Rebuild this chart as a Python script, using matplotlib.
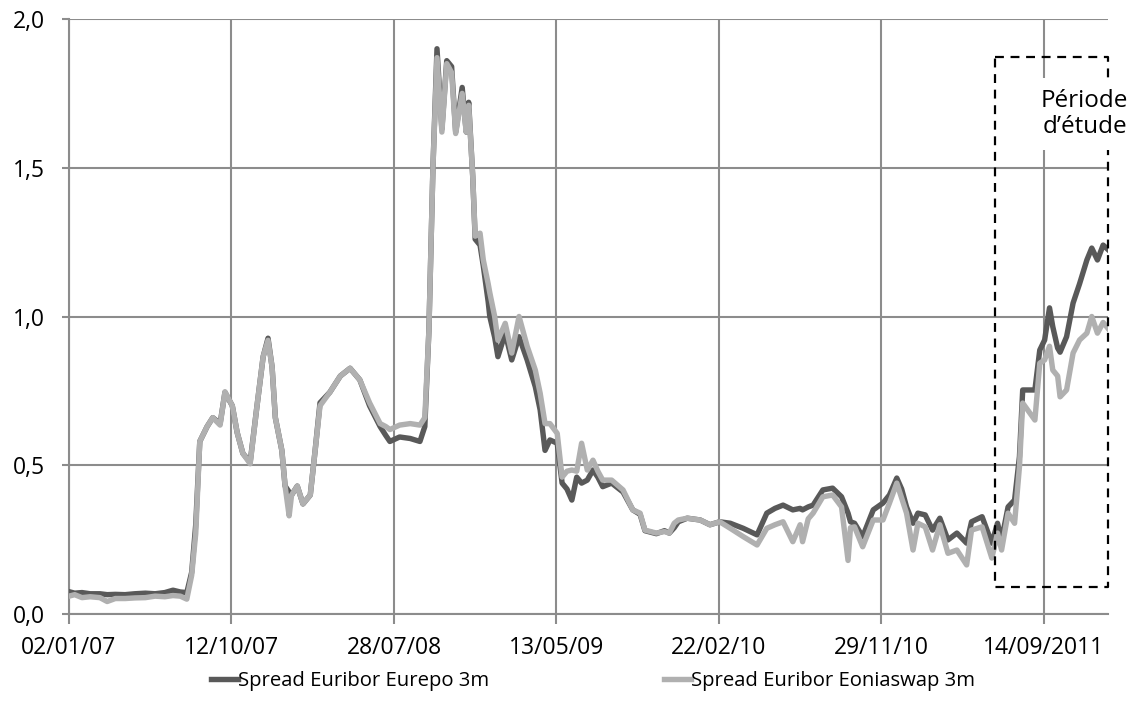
import matplotlib
matplotlib.use("Agg")
import matplotlib.pyplot as plt
import numpy as np

plt.rcParams['font.family'] = ['Open Sans', 'DejaVu Sans']

# trading-day index of each reading (first day = 02/01/07)
day_idx = [0, 7, 16, 26, 38, 47, 57, 69, 81, 94, 106, 118, 128, 137, 145, 151, 156, 161,
           170, 177, 186, 192, 201, 207, 214, 223, 231, 239, 245, 250, 254, 262, 266, 271,
           274, 281, 288, 297, 303, 309, 321, 334, 346, 358, 370, 383, 390, 395, 407, 420,
           432, 438, 443, 448, 453, 459, 465, 471, 476, 484, 489, 492, 497, 500, 506, 510,
           516, 518, 524, 528, 537, 545, 554, 564, 574, 580, 586, 592, 601, 607, 613, 619,
           625, 631, 638, 645, 651, 657, 668, 682, 694, 703, 709, 723, 733, 739, 745, 750,
           761, 777, 789, 801, 814, 830, 847, 859, 869, 879, 891, 900, 903, 910, 916, 928,
           940, 951, 959, 962, 967, 977, 990, 1002, 1010, 1019, 1025, 1031, 1039, 1045,
           1054, 1063, 1072, 1082, 1093, 1105, 1111, 1124, 1136, 1143, 1148, 1156, 1164,
           1170, 1174, 1183, 1189, 1195, 1201, 1207, 1211, 1217, 1220, 1228, 1236, 1244,
           1253, 1259, 1266, 1273, 1279]

eurepo = [0.075, 0.070, 0.072, 0.068, 0.068, 0.065, 0.066, 0.065, 0.068, 0.070, 0.068, 0.072,
          0.080, 0.074, 0.072, 0.14, 0.30, 0.58, 0.63, 0.66, 0.64, 0.745, 0.70, 0.61, 0.54,
          0.51, 0.69, 0.865, 0.927, 0.83, 0.66, 0.55, 0.43, 0.41, 0.40, 0.43, 0.37, 0.40,
          0.55, 0.71, 0.745, 0.80, 0.826, 0.787, 0.70, 0.63, 0.60, 0.58, 0.595, 0.59, 0.58,
          0.63, 0.95, 1.50, 1.90, 1.63, 1.86, 1.84, 1.62, 1.77, 1.62, 1.72, 1.47, 1.26, 1.24,
          1.17, 1.05, 1.00, 0.93, 0.865, 0.944, 0.854, 0.932, 0.854, 0.764, 0.686, 0.55,
          0.585, 0.574, 0.44, 0.42, 0.383, 0.46, 0.44, 0.45, 0.484, 0.46, 0.428, 0.44, 0.41,
          0.35, 0.335, 0.28, 0.27, 0.28, 0.272, 0.29, 0.31, 0.322, 0.316, 0.30, 0.31, 0.305,
          0.288, 0.266, 0.339, 0.355, 0.366, 0.35, 0.355, 0.35, 0.36, 0.366, 0.417, 0.423,
          0.394, 0.339, 0.31, 0.305, 0.26, 0.35, 0.373, 0.40, 0.457, 0.42, 0.36, 0.305, 0.339,
          0.333, 0.282, 0.322, 0.249, 0.272, 0.238, 0.31, 0.327, 0.238, 0.305, 0.249, 0.36,
          0.383, 0.529, 0.753, 0.753, 0.753, 0.887, 0.921, 1.029, 0.966, 0.894, 0.88, 0.932,
          1.045, 1.11, 1.19, 1.23, 1.19, 1.24, 1.225]

eoniaswap = [0.060, 0.065, 0.055, 0.058, 0.055, 0.042, 0.052, 0.052, 0.054, 0.055, 0.060,
             0.058, 0.062, 0.060, 0.050, 0.13, 0.27, 0.58, 0.63, 0.66, 0.635, 0.747, 0.70,
             0.61, 0.54, 0.505, 0.69, 0.865, 0.92, 0.83, 0.66, 0.55, 0.43, 0.33, 0.40, 0.43,
             0.37, 0.40, 0.55, 0.70, 0.745, 0.80, 0.826, 0.787, 0.71, 0.64, 0.63, 0.62, 0.635,
             0.64, 0.635, 0.66, 0.95, 1.50, 1.87, 1.62, 1.85, 1.82, 1.615, 1.75, 1.62, 1.71,
             1.47, 1.27, 1.28, 1.19, 1.11, 1.08, 1.00, 0.92, 0.977, 0.877, 1.00, 0.90, 0.82,
             0.742, 0.64, 0.64, 0.607, 0.46, 0.48, 0.484, 0.48, 0.574, 0.484, 0.517, 0.48,
             0.45, 0.45, 0.417, 0.35, 0.339, 0.282, 0.272, 0.277, 0.272, 0.305, 0.316, 0.322,
             0.316, 0.30, 0.31, 0.288, 0.26, 0.232, 0.288, 0.30, 0.31, 0.243, 0.30, 0.243,
             0.32, 0.339, 0.394, 0.40, 0.36, 0.18, 0.29, 0.293, 0.226, 0.316, 0.316, 0.373,
             0.44, 0.39, 0.339, 0.215, 0.305, 0.293, 0.215, 0.30, 0.204, 0.215, 0.165, 0.282,
             0.293, 0.188, 0.272, 0.215, 0.339, 0.305, 0.495, 0.709, 0.675, 0.652, 0.843,
             0.854, 0.90, 0.82, 0.80, 0.73, 0.753, 0.877, 0.921, 0.944, 1.00, 0.944, 0.98, 0.96]

tick_idx = [0, 200, 400, 600, 800, 1000, 1200]
tick_labels = ["02/01/07", "12/10/07", "28/07/08", "13/05/09", "22/02/10", "29/11/10", "14/09/2011"]
y_ticks = [0.0, 0.5, 1.0, 1.5, 2.0]
y_labels = ["0,0", "0,5", "1,0", "1,5", "2,0"]
series_names = ["Spread Euribor Eurepo 3m", "Spread Euribor Eoniaswap 3m"]
study_box = dict(x0=1140, x1=1279, y0=0.091, y1=1.872)
study_label = "Période\nd\u2019étude"

fig = plt.figure(figsize=(11.38, 7.19), dpi=100)
ax = fig.add_axes([69/1138, 1 - 614/719, (1108 - 69)/1138, (614 - 19)/719])

grid_c = "#8c8c8c"
ax.plot(day_idx, eurepo, color="#595959", lw=3.9, solid_joinstyle="round", label=series_names[0], zorder=3)
ax.plot(day_idx, eoniaswap, color="#b0b0b0", lw=3.9, solid_joinstyle="round", label=series_names[1], zorder=4)

ax.set_xlim(0, 1279)
ax.set_ylim(0, 2.0)
ax.set_xticks(tick_idx)
ax.set_xticklabels(tick_labels, fontsize=16.5)
ax.set_yticks(y_ticks)
ax.set_yticklabels(y_labels, fontsize=16.5)
ax.grid(True, color=grid_c, lw=1.5, zorder=0)
for s in ["top", "right"]:
    ax.spines[s].set_visible(False)
ax.spines["left"].set_color(grid_c)
ax.spines["bottom"].set_color(grid_c)
ax.spines["left"].set_linewidth(1.5)
ax.spines["bottom"].set_linewidth(1.5)
ax.tick_params(axis="x", direction="out", length=7, width=1.5, color=grid_c, pad=9)
ax.tick_params(axis="y", direction="out", length=5, width=1.5, color=grid_c, pad=12)

bx = [study_box["x0"], study_box["x1"], study_box["x1"], study_box["x0"], study_box["x0"]]
by = [study_box["y1"], study_box["y1"], study_box["y0"], study_box["y0"], study_box["y1"]]
ax.plot(bx, by, color="black", lw=1.6, ls=(0, (4, 3)), clip_on=False, zorder=5)

ax.text(1250, 1.68, study_label, ha="center", va="center", fontsize=17.5, linespacing=1.1,
        zorder=6, clip_on=False,
        bbox=dict(boxstyle="square,pad=0.45", fc="white", ec="none"))

fig.legend(loc="center", bbox_to_anchor=(0.521, 1 - 681/719), ncol=2, frameon=False,
           fontsize=14.6, handlelength=1.35, handletextpad=0.0, columnspacing=8.6)

fig.savefig("out.png", dpi=100)
